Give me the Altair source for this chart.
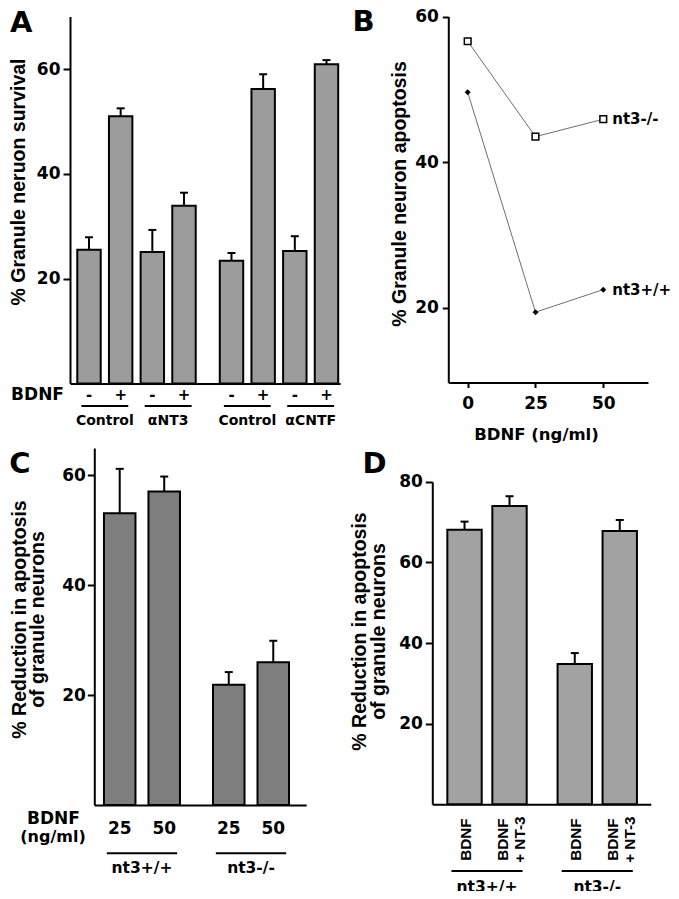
import altair as alt
import pandas as pd

HF = "DejaVu Sans"
VF = "Liberation Sans"
W, H = 663, 883

# ---------------- data ----------------
a_condition = ["Control", "Control", "αNT3", "αNT3", "Control", "Control", "αCNTF", "αCNTF"]
a_bdnf = ["-", "+", "-", "+", "-", "+", "-", "+"]
a_survival = [25.5, 51.0, 25.1, 33.9, 23.4, 56.2, 25.3, 60.9]
a_sem = [2.4, 1.5, 4.2, 2.5, 1.5, 2.8, 2.8, 0.8]

b_dose = [0, 25, 50]
b_nt3_ko = [56.6, 43.5, 45.9]
b_nt3_wt = [49.6, 19.4, 22.5]

c_dose = ["25", "50", "25", "50"]
c_genotype = ["nt3+/+", "nt3+/+", "nt3-/-", "nt3-/-"]
c_reduction = [53.1, 57.1, 21.9, 26.0]
c_sem = [8.1, 2.7, 2.3, 3.9]

d_treatment = ["BDNF", "BDNF|+ NT-3", "BDNF", "BDNF|+ NT-3"]
d_genotype = ["nt3+/+", "nt3+/+", "nt3-/-", "nt3-/-"]
d_reduction = [68.1, 74.0, 34.8, 67.8]
d_sem = [2.0, 2.4, 2.7, 2.7]

# ---------------- scales (pixel ranges of each panel) ----------------
def S(domain, rng):
    return alt.Scale(domain=domain, range=rng, nice=False, zero=False)

A_X = S([-0.6, 7.93], [62, 332.1])
A_Y = S([0, 70], [375.5, 8.6])
B_X = S([-7.15, 66.5], [440.3, 640])
B_Y = S([9.75, 60], [374.5, 8.5])
C_X = S([-0.571, 4.19], [86.3, 298.2])
C_Y = S([0, 65], [797, 440])
D_X = S([-0.716, 4.14], [424.3, 642.8])
D_Y = S([0, 80], [796.3, 473.7])

AX = dict(domainColor="black", domainWidth=2, tickColor="black", tickWidth=2,
          labelColor="black", labelFont=HF, labelFontSize=17, labelFontWeight="bold",
          grid=False, labelFlush=False, format="d")


def left_axis(offset, values, tick, pad, title, tx, ty):
    return alt.Axis(orient="left", offset=offset, values=values, tickSize=tick,
                    labelPadding=pad, title=title, titleFont=VF, titleFontSize=19.5,
                    titleFontWeight="bold", titleColor="black", titleAngle=270,
                    titleAlign="center", titleBaseline="top", titleX=tx, titleY=ty,
                    titleLineHeight=18.5, **AX)


def base_axis(offset):
    return alt.Axis(orient="bottom", offset=offset, ticks=False, labels=False,
                    title=None, domainColor="black", domainWidth=2, grid=False)


def txt(s, x, y, size, align="left", baseline="alphabetic", font=HF, angle=0):
    df = pd.DataFrame({"label": [s]})
    return alt.Chart(df).mark_text(align=align, baseline=baseline, font=font,
                                   fontSize=size, fontWeight="bold", color="black",
                                   angle=angle).encode(
        x=alt.value(x), y=alt.value(y), text="label:N")


def bar_panel(df, XS, YS, fill, xaxis, yaxis, cap):
    bars = alt.Chart(df).mark_rect(fill=fill, stroke="black", strokeWidth=2).encode(
        x=alt.X("left:Q", scale=XS, axis=xaxis), x2="right:Q",
        y=alt.Y("value:Q", scale=YS, axis=yaxis), y2="zero:Q")
    err = alt.Chart(df).mark_rule(color="black", strokeWidth=2).encode(
        x=alt.X("pos:Q", scale=XS, axis=None),
        y=alt.Y("value:Q", scale=YS, axis=None), y2="top:Q")
    caps = alt.Chart(df).mark_tick(orient="horizontal", size=cap, thickness=2,
                                   color="black", opacity=1).encode(
        x=alt.X("pos:Q", scale=XS, axis=None),
        y=alt.Y("top:Q", scale=YS, axis=None))
    return [bars, err, caps]


def make_df(pos, values, sems, half):
    df = pd.DataFrame({"pos": pos, "value": values, "sem": sems})
    df["left"] = df["pos"] - half
    df["right"] = df["pos"] + half
    df["top"] = df["value"] + df["sem"]
    df["zero"] = 0
    return df


def pair_df(pos, names, half):
    rows = []
    for k in range(0, len(pos), 2):
        c = (pos[k] + pos[k + 1]) / 2
        rows.append({"center": c, "l": c - half, "r": c + half, "name": names[k]})
    return pd.DataFrame(rows)


layers = []

# ---------------- panel A ----------------
a_pos = [i + (0.5 if i >= 4 else 0.0) for i in range(len(a_survival))]
a_df = make_df(a_pos, a_survival, a_sem, 0.37)
a_df["bdnf"] = a_bdnf
layers += bar_panel(
    a_df, A_X, A_Y, "#9c9c9c", base_axis(375.5 - H),
    left_axis(-62, [20, 40, 60], 7, 3, "% Granule neruon survival", -60.5, 173.5),
    8)
layers.append(alt.Chart(a_df).mark_text(font=HF, fontSize=15, fontWeight="bold",
                                        baseline="middle", color="black").encode(
    x=alt.X("pos:Q", scale=A_X, axis=None), y=alt.value(387), text="bdnf:N"))
layers.append(txt("BDNF", 56, 387, 17, align="right", baseline="middle"))
a_pairs = pair_df(a_pos, a_condition, 0.74)
layers.append(alt.Chart(a_pairs).mark_rule(color="black", strokeWidth=2).encode(
    x=alt.X("l:Q", scale=A_X, axis=None), x2="r:Q", y=alt.value(398)))
layers.append(alt.Chart(a_pairs).mark_text(font=HF, fontSize=14, fontWeight="bold",
                                           baseline="middle", color="black").encode(
    x=alt.X("center:Q", scale=A_X, axis=None), y=alt.value(413), text="name:N"))
layers.append(txt("A", 2, 24, 29))

# ---------------- panel B ----------------
b_df = pd.DataFrame({
    "dose": b_dose * 2,
    "apoptosis": b_nt3_ko + b_nt3_wt,
    "genotype": ["nt3-/-"] * len(b_dose) + ["nt3+/+"] * len(b_dose),
})
b_xaxis = alt.Axis(orient="bottom", offset=374.5 - H, values=b_dose, tickSize=5,
                   labelPadding=8, title="BDNF (ng/ml)", titleFont=HF,
                   titleFontSize=16.5, titleFontWeight="bold", titleColor="black",
                   titleAlign="center", titleBaseline="middle", titleX=528,
                   titleY=51.5, **AX)
b_yaxis = left_axis(-440.3, [20, 40, 60], 6, 4, "% Granule neuron apoptosis", -58.3, 185.5)
layers.append(alt.Chart(b_df).mark_line(color="#6e6e6e", strokeWidth=1).encode(
    x=alt.X("dose:Q", scale=B_X, axis=b_xaxis),
    y=alt.Y("apoptosis:Q", scale=B_Y, axis=b_yaxis), detail="genotype:N"))
layers.append(alt.Chart(b_df).transform_filter(alt.datum.genotype == "nt3-/-").mark_point(
    shape="square", size=45, filled=True, fill="white", stroke="black",
    strokeWidth=1.5, opacity=1).encode(
    x=alt.X("dose:Q", scale=B_X, axis=None), y=alt.Y("apoptosis:Q", scale=B_Y, axis=None)))
layers.append(alt.Chart(b_df).transform_filter(alt.datum.genotype == "nt3+/+").mark_point(
    shape="diamond", size=36, filled=True, color="black", opacity=1).encode(
    x=alt.X("dose:Q", scale=B_X, axis=None), y=alt.Y("apoptosis:Q", scale=B_Y, axis=None)))
layers.append(alt.Chart(b_df).transform_filter(alt.datum.dose == max(b_dose)).mark_text(
    align="left", baseline="middle", dx=9, font=HF, fontSize=15, fontWeight="bold",
    color="black").encode(
    x=alt.X("dose:Q", scale=B_X, axis=None), y=alt.Y("apoptosis:Q", scale=B_Y, axis=None),
    text="genotype:N"))
layers.append(txt("B", 344.5, 23, 29))

# ---------------- panel C ----------------
c_pos = [i + (0.45 if i >= 2 else 0.0) for i in range(len(c_reduction))]
c_df = make_df(c_pos, c_reduction, c_sem, 0.354)
c_df["dose"] = c_dose
layers += bar_panel(
    c_df, C_X, C_Y, "#7e7e7e", base_axis(797 - H),
    left_axis(-86.3, [20, 40, 60], 7, 2,
              ["% Reduction in apoptosis", "of granule neurons"], -84, 611),
    8)
layers.append(alt.Chart(c_df).mark_text(font=HF, fontSize=17, fontWeight="bold",
                                        baseline="middle", color="black").encode(
    x=alt.X("pos:Q", scale=C_X, axis=None), y=alt.value(821), text="dose:N"))
layers.append(txt("BDNF", 45.5, 811, 17, align="center", baseline="middle"))
layers.append(txt("(ng/ml)", 45, 828.7, 16, align="center", baseline="middle"))
c_pairs = pair_df(c_pos, c_genotype, 0.79)
layers.append(alt.Chart(c_pairs).mark_rule(color="black", strokeWidth=2).encode(
    x=alt.X("l:Q", scale=C_X, axis=None), x2="r:Q", y=alt.value(845.3)))
layers.append(alt.Chart(c_pairs).mark_text(font=HF, fontSize=15.5, fontWeight="bold",
                                           baseline="middle", color="black").encode(
    x=alt.X("center:Q", scale=C_X, axis=None), y=alt.value(860), text="name:N"))
layers.append(txt("C", 1.2, 465.3, 29))

# ---------------- panel D ----------------
d_pos = [i + (0.45 if i >= 2 else 0.0) for i in range(len(d_reduction))]
d_df = make_df(d_pos, d_reduction, d_sem, 0.382)
d_df["line1"] = [t.split("|")[0] for t in d_treatment]
d_df["line2"] = [t.split("|")[1] if "|" in t else "" for t in d_treatment]
d_df["two"] = [("|" in t) for t in d_treatment]
layers += bar_panel(
    d_df, D_X, D_Y, "#a2a2a2", base_axis(796.3 - H),
    left_axis(-424.3, [20, 40, 60, 80], 7, 3,
              ["% Reduction in apoptosis", "of granule neurons"], -81.8, 623),
    8)
rot = dict(angle=270, align="right", baseline="middle", font=VF, fontSize=15.3,
           fontWeight="bold", color="black")
d_single = d_df[~d_df["two"]]
d_double = d_df[d_df["two"]]
layers.append(alt.Chart(d_single).mark_text(dy=1, **rot).encode(
    x=alt.X("pos:Q", scale=D_X, axis=None), y=alt.value(810.3), text="line1:N"))
layers.append(alt.Chart(d_double).mark_text(dy=-7, **rot).encode(
    x=alt.X("pos:Q", scale=D_X, axis=None), y=alt.value(810.3), text="line1:N"))
layers.append(alt.Chart(d_double).mark_text(dy=10, **rot).encode(
    x=alt.X("pos:Q", scale=D_X, axis=None), y=alt.value(808.5), text="line2:N"))
d_pairs = pair_df(d_pos, d_genotype, 0.79)
layers.append(alt.Chart(d_pairs).mark_rule(color="black", strokeWidth=2).encode(
    x=alt.X("l:Q", scale=D_X, axis=None), x2="r:Q", y=alt.value(863)))
layers.append(alt.Chart(d_pairs).mark_text(font=HF, fontSize=15.5, fontWeight="bold",
                                           baseline="middle", color="black").encode(
    x=alt.X("center:Q", scale=D_X, axis=None), y=alt.value(879.3), text="name:N"))
layers.append(txt("D", 354.5, 465.3, 29))

chart = alt.layer(*layers).resolve_scale(
    x="independent", y="independent"
).resolve_axis(
    x="independent", y="independent"
).properties(
    width=W, height=H, autosize=alt.AutoSizeParams(type="none"), padding=0,
    background="white"
).configure_view(strokeWidth=0)

chart.save("out.html", embed_options={"renderer": "svg", "actions": False})
